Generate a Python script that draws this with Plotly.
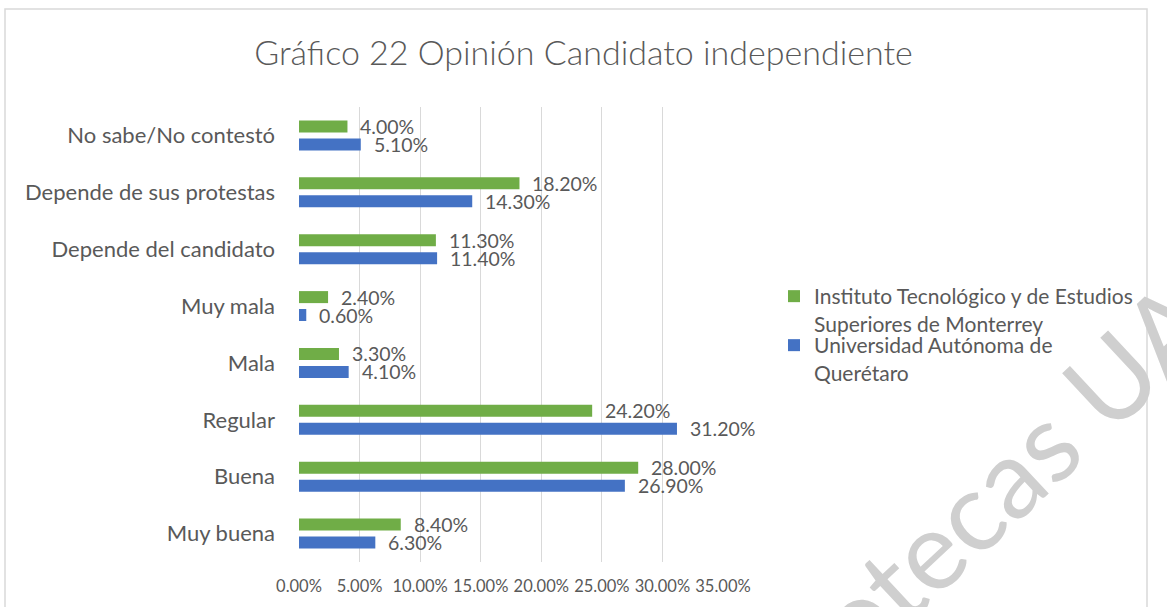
import plotly.graph_objects as go

categories = ["Muy buena", "Buena", "Regular", "Mala", "Muy mala",
              "Depende del candidato", "Depende de sus protestas", "No sabe/No contestó"]
itesm = [8.4, 28.0, 24.2, 3.3, 2.4, 11.3, 18.2, 4.0]
uaq = [6.3, 26.9, 31.2, 4.1, 0.6, 11.4, 14.3, 5.1]
name_itesm = "Instituto Tecnológico y de Estudios<br>Superiores de Monterrey"
name_uaq = "Universidad Autónoma de<br>Querétaro"
x_ticks = [0, 5, 10, 15, 20, 25, 30, 35]

FONT = "Lato"
GREY = "#595959"

L, R, T, B = 299, 444, 107, 45
W, H = 1167, 607
pw, ph = W - L - R, H - T - B


def px_x(px):
    return (px - L) / pw


def px_y(py):
    return (H - B - py) / ph


fig = go.Figure()
fig.add_trace(go.Bar(y=categories, x=uaq, orientation="h", name=name_uaq, legend="legend2",
                     showlegend=True, marker=dict(color="#4472C4", line=dict(width=0))))
fig.add_trace(go.Bar(y=categories, x=itesm, orientation="h", name=name_itesm, legend="legend",
                     showlegend=True, marker=dict(color="#70AD47", line=dict(width=0))))

annotations = []
for cat, v in zip(categories, itesm):
    annotations.append(dict(x=v, y=cat, xref="x", yref="y", text=f"{v:.2f}%",
                            showarrow=False, xanchor="left", yanchor="middle",
                            xshift=11, yshift=9, font=dict(family=FONT, size=19.5, color=GREY)))
for cat, v in zip(categories, uaq):
    annotations.append(dict(x=v, y=cat, xref="x", yref="y", text=f"{v:.2f}%",
                            showarrow=False, xanchor="left", yanchor="middle",
                            xshift=11, yshift=-9, font=dict(family=FONT, size=19.5, color=GREY)))
# watermark
annotations.append(dict(x=px_x(966), y=px_y(512), xref="paper", yref="paper", text="Bibliotecas UAQ",
                        showarrow=False, textangle=-43, xanchor="center", yanchor="middle",
                        font=dict(family=FONT, size=110, color="#cfcfcf")))

legend_common = dict(xanchor="left", yanchor="top", valign="top",
                     font=dict(family=FONT, size=21, color=GREY),
                     bgcolor="rgba(0,0,0,0)", visible=True)

fig.update_layout(
    width=W, height=H,
    margin=dict(l=L, r=R, t=T, b=B),
    paper_bgcolor="white", plot_bgcolor="white",
    showlegend=True,
    barmode="group", bargap=0.37, bargroupgap=0.33,
    title=dict(text="Gráfico 22 Opinión Candidato independiente",
               x=0.5, xref="container", xanchor="center",
               y=1 - 53 / H, yref="container", yanchor="middle",
               font=dict(family=FONT, size=34, color=GREY, weight=300)),
    legend=dict(x=px_x(774), y=px_y(276), **legend_common),
    legend2=dict(x=px_x(774), y=px_y(325), **legend_common),
    annotations=annotations,
    shapes=[dict(type="rect", xref="paper", yref="paper",
                 x0=px_x(5), x1=2.0, y0=-0.5, y1=px_y(9),
                 line=dict(color="#d9d9d9", width=1.5), fillcolor="rgba(0,0,0,0)", layer="below")],
)
fig.update_xaxes(range=[0, 35], tickvals=x_ticks,
                 ticktext=[f"{t:.2f}%" for t in x_ticks],
                 showgrid=True, gridcolor="#d9d9d9", gridwidth=1, zeroline=False,
                 showline=False, ticks="", ticklabelstandoff=12,
                 tickfont=dict(family=FONT, size=16.5, color=GREY))
fig.update_yaxes(type="category", categoryorder="array", categoryarray=categories,
                 showgrid=False, showline=False, ticks="", ticklabelstandoff=23,
                 tickfont=dict(family=FONT, size=22, color=GREY))

fig.write_html("out.html", config={"displayModeBar": False},
               post_script="document.body.style.margin='0';")
